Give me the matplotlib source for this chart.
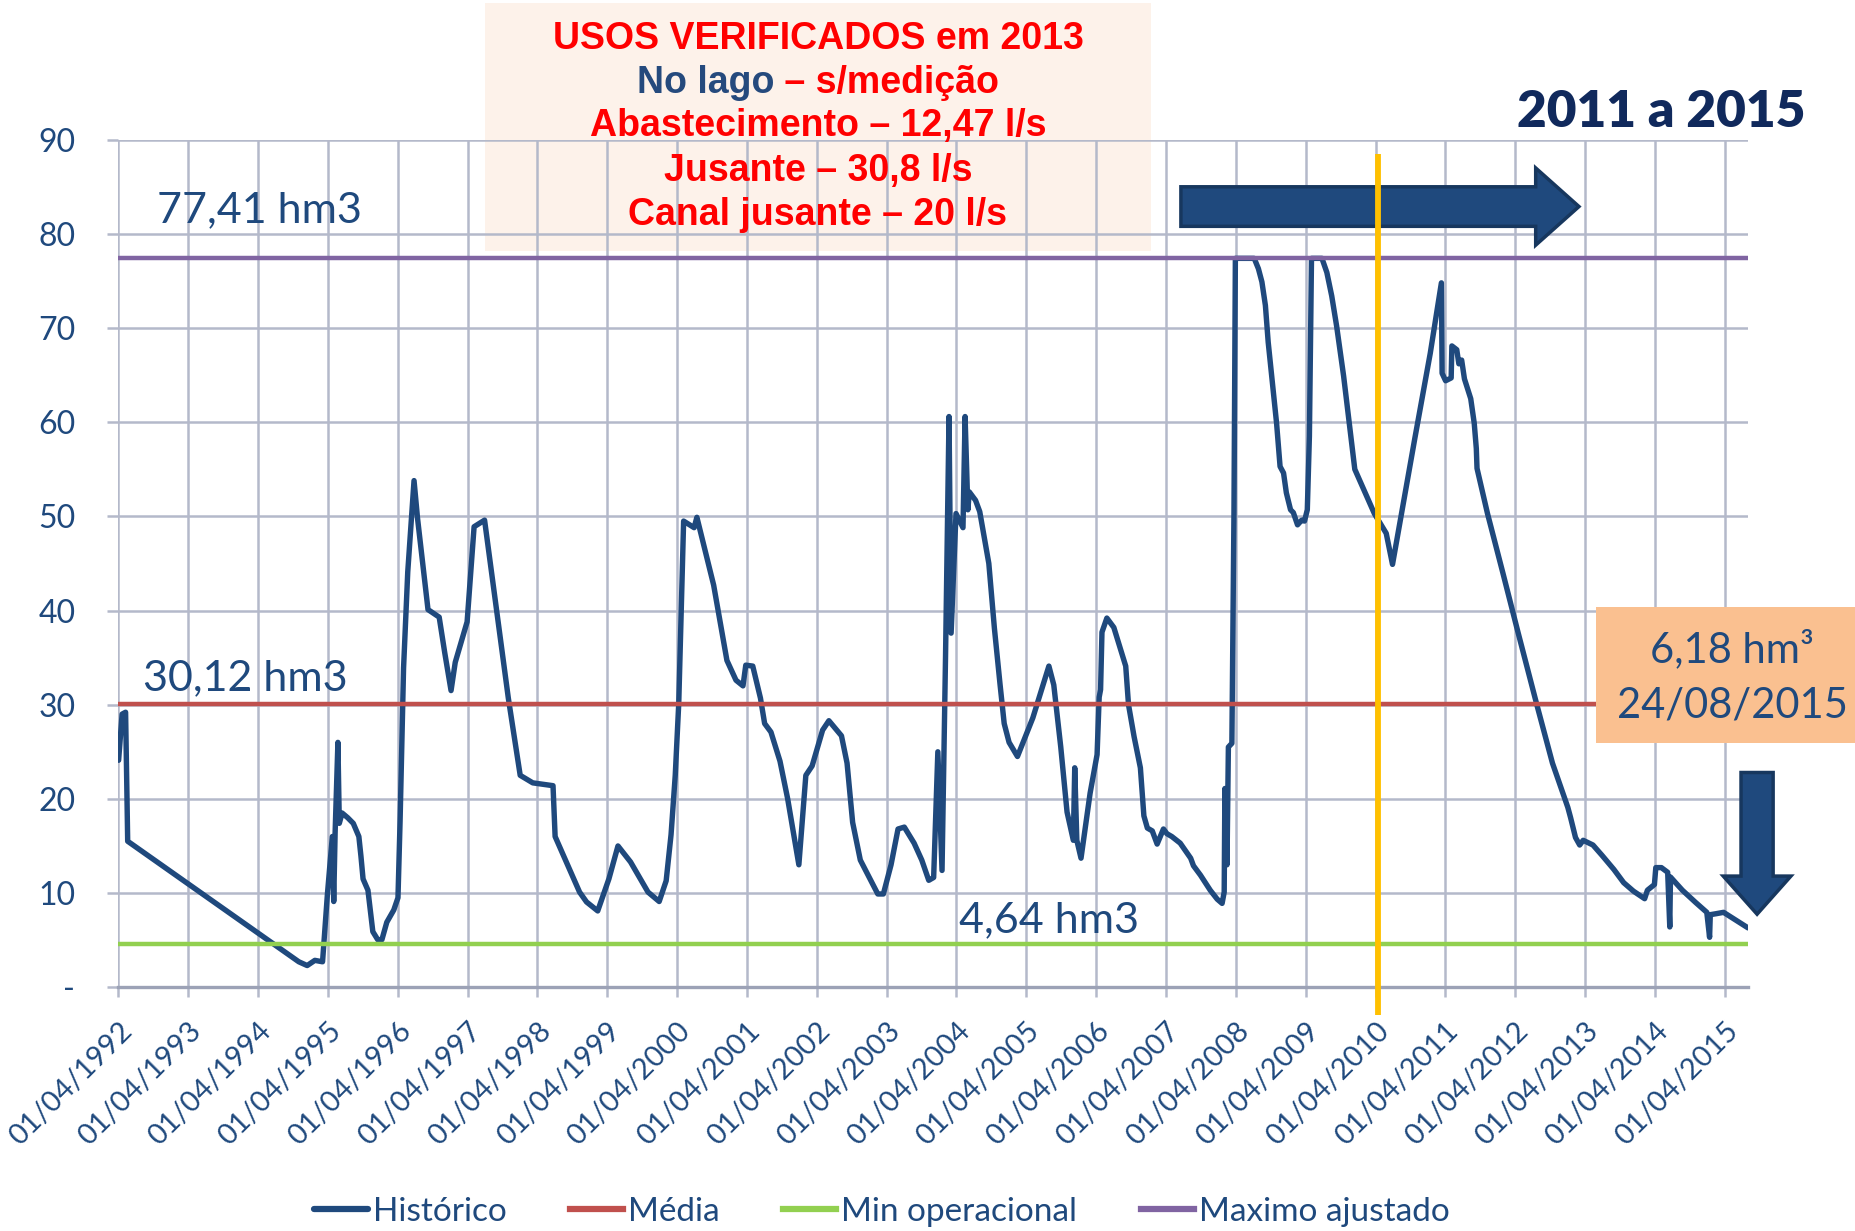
import matplotlib
matplotlib.use("Agg")
import matplotlib.pyplot as plt
from matplotlib.patches import Rectangle, FancyArrow

# volume do reservatorio (hm3), tempo em anos decimais
anos = [1992.25, 1992.30, 1992.35, 1992.38, 1994.83, 1994.95, 1995.06, 1995.17,
        1995.24, 1995.31, 1995.33, 1995.35, 1995.39, 1995.41, 1995.45, 1995.53,
        1995.61, 1995.69, 1995.72, 1995.75, 1995.82, 1995.89, 1995.96, 1996.02,
        1996.09, 1996.19, 1996.25, 1996.28, 1996.33, 1996.39, 1996.48, 1996.53,
        1996.68, 1996.84, 1996.92, 1997.01, 1997.07, 1997.24, 1997.34, 1997.49,
        1997.64, 1997.83, 1998.00, 1998.18, 1998.47, 1998.50, 1998.66, 1998.85,
        1998.95, 1999.11, 1999.27, 1999.40, 1999.58, 1999.83, 1999.99, 2000.09,
        2000.16, 2000.22, 2000.27, 2000.34, 2000.49, 2000.53, 2000.63, 2000.77,
        2000.96, 2001.09, 2001.19, 2001.23, 2001.33, 2001.44, 2001.50, 2001.59,
        2001.72, 2001.83, 2001.99, 2002.09, 2002.18, 2002.33, 2002.42, 2002.60,
        2002.68, 2002.76, 2002.87, 2003.12, 2003.20, 2003.31, 2003.41, 2003.50,
        2003.64, 2003.75, 2003.85, 2003.92, 2003.98, 2004.04, 2004.09, 2004.14,
        2004.17, 2004.24, 2004.34, 2004.37, 2004.41, 2004.43, 2004.52, 2004.58,
        2004.71, 2004.79, 2004.87, 2004.93, 2005.00, 2005.12, 2005.34, 2005.57,
        2005.64, 2005.74, 2005.83, 2005.92, 2005.94, 2005.97, 2006.03, 2006.16,
        2006.26, 2006.29, 2006.31, 2006.33, 2006.40, 2006.50, 2006.57, 2006.67,
        2006.71, 2006.79, 2006.88, 2006.93, 2006.98, 2007.05, 2007.12, 2007.21,
        2007.26, 2007.33, 2007.45, 2007.60, 2007.64, 2007.74, 2007.88, 2007.98,
        2008.05, 2008.08, 2008.09, 2008.12, 2008.14, 2008.19, 2008.22, 2008.24,
        2008.51, 2008.57, 2008.62, 2008.67, 2008.71, 2008.76, 2008.83, 2008.88,
        2008.93, 2008.97, 2009.03, 2009.07, 2009.13, 2009.19, 2009.23, 2009.27,
        2009.30, 2009.33, 2009.48, 2009.55, 2009.57, 2009.62, 2009.69, 2009.79,
        2009.87, 2009.95, 2010.23, 2010.40, 2010.49, 2010.81, 2011.03, 2011.19,
        2011.20, 2011.25, 2011.33, 2011.34, 2011.41, 2011.44, 2011.48, 2011.52,
        2011.61, 2011.66, 2011.69, 2011.70, 2011.85, 2012.07, 2012.29, 2012.56,
        2012.78, 2013.00, 2013.04, 2013.11, 2013.17, 2013.22, 2013.36, 2013.49,
        2013.66, 2013.80, 2013.94, 2014.10, 2014.14, 2014.24, 2014.26, 2014.34,
        2014.43, 2014.46, 2014.47, 2014.64, 2014.83, 2014.99, 2015.03, 2015.04,
        2015.12, 2015.23, 2015.40, 2015.58]
volume = [24.1, 29.0, 29.2, 15.5, 2.7, 2.3, 2.85, 2.7,
          9.9, 16.0, 9.1, 16.4, 26.0, 17.4, 18.5, 18.0,
          17.4, 16.0, 13.9, 11.5, 10.3, 5.9, 5.05, 5.05,
          6.9, 8.2, 9.5, 17.6, 33.9, 44.1, 53.8, 49.8,
          40.1, 39.3, 35.5, 31.5, 34.5, 38.8, 48.9, 49.6,
          41.3, 30.7, 22.5, 21.7, 21.4, 16.0, 13.3, 10.1,
          9.05, 8.1, 11.5, 15.0, 13.3, 10.1, 9.1, 11.3,
          16.2, 22.5, 30.1, 49.5, 48.8, 49.9, 46.9, 42.7,
          34.7, 32.6, 32.0, 34.2, 34.1, 30.7, 28.0, 27.1,
          24.0, 20.0, 13.0, 22.5, 23.5, 27.3, 28.3, 26.7,
          23.8, 17.5, 13.5, 9.9, 9.9, 13.0, 16.8, 17.0,
          15.3, 13.5, 11.35, 11.65, 25.0, 12.4, 35.1, 60.6,
          37.6, 50.3, 48.8, 60.6, 50.7, 52.6, 51.7, 50.5,
          45.0, 38.1, 32.2, 28.0, 26.0, 24.5, 28.6, 34.1,
          32.1, 25.5, 18.6, 15.6, 23.3, 15.6, 13.7, 20.6,
          24.7, 30.8, 31.6, 37.7, 39.2, 38.2, 36.5, 34.1,
          30.0, 26.6, 23.3, 18.2, 16.9, 16.6, 15.2, 16.8,
          16.3, 16.0, 15.3, 13.7, 12.9, 11.9, 10.3, 9.35,
          8.9, 10.1, 21.1, 13.0, 25.5, 25.9, 50.4, 77.4,
          77.4, 76.3, 74.9, 72.4, 68.5, 64.9, 59.9, 55.3,
          54.6, 52.5, 50.7, 50.4, 49.1, 49.6, 49.5, 50.7,
          58.5, 77.4, 77.4, 75.9, 75.2, 73.4, 70.2, 64.9,
          59.9, 55.0, 50.3, 48.2, 44.9, 58.3, 67.3, 74.8,
          65.2, 64.4, 64.7, 68.1, 67.7, 66.2, 66.6, 64.6,
          62.5, 59.9, 57.2, 55.1, 50.3, 44.0, 37.6, 29.9,
          23.8, 19.1, 18.0, 15.9, 15.1, 15.6, 15.1, 14.0,
          12.5, 11.1, 10.2, 9.4, 10.3, 10.9, 12.7, 12.7,
          12.2, 6.4, 11.7, 10.3, 9.0, 7.95, 5.3, 7.7,
          7.8, 7.95, 7.15, 6.3]

MEDIA = 30.12
MIN_OPERACIONAL = 4.64
MAXIMO = 77.41
MARCO_2010 = 2010.28

anos_ticks = list(range(1992, 2016))
y_ticks = [0, 10, 20, 30, 40, 50, 60, 70, 80, 90]

box_linhas = ["USOS VERIFICADOS em 2013", None, "Abastecimento \u2013 12,47 l/s",
              "Jusante \u2013 30,8 l/s", "Canal jusante \u2013 20 l/s"]

AZUL = "#1F497D"
VERMELHO = "#FF0000"
CAL = ["Lato", "DejaVu Sans"]
ARIAL = ["Liberation Sans", "DejaVu Sans"]

W, H = 1856, 1231
fig = plt.figure(figsize=(W / 100, H / 100), dpi=100)
fig.patch.set_facecolor("white")
ax = fig.add_axes([118.4 / W, 1 - 987.2 / H, (1748 - 118.4) / W, (987.2 - 139.7) / H])
ax.set_facecolor("none")

# serie e linhas de referencia
x0, x1 = anos[0], anos[-1]
ax.plot(anos, volume, color=AZUL, lw=3.9, solid_joinstyle="round",
        solid_capstyle="round", zorder=3, label="Hist\u00f3rico")
ax.plot([x0, x1], [MEDIA, MEDIA], color="#C0504D", lw=3.2, zorder=4, label="M\u00e9dia")
ax.plot([x0, x1], [MIN_OPERACIONAL] * 2, color="#92D050", lw=3.2, zorder=4,
        label="Min operacional")
ax.plot([x0, x1], [MAXIMO, MAXIMO], color="#8064A2", lw=3.2, zorder=4,
        label="Maximo ajustado")

ax.set_xlim(x0, x1)
ax.set_ylim(0, 90)
tick_pos = [a + 0.247 for a in anos_ticks]
ax.set_xticks(tick_pos)
ax.set_xticklabels(["01/04/%d" % a for a in anos_ticks], rotation=45, ha="right",
                   va="top", rotation_mode="anchor", family=CAL, fontsize=21,
                   color=AZUL)
ax.set_yticks(y_ticks)
ax.set_yticklabels(["-" if v == 0 else str(v) for v in y_ticks], family=CAL,
                   fontsize=23, color=AZUL)
ax.grid(True, color="#B4B9CA", lw=1.8, zorder=0)
ax.set_axisbelow(True)
ax.tick_params(axis="x", length=7, width=1.8, color="#B4B9CA", pad=15)
ax.tick_params(axis="y", length=8, width=1.8, color="#B4B9CA", pad=23)
for s in ["top", "right", "left"]:
    ax.spines[s].set_visible(False)
ax.spines["bottom"].set_color("#9CA2B6")
ax.spines["bottom"].set_linewidth(2.4)

# rotulos das linhas
def fmt(v):
    return ("%.2f" % v).replace(".", ",") + " hm3"

ax.text(1992.8, 82.5, fmt(MAXIMO), family=CAL, fontsize=31, color=AZUL,
        ha="left", va="center", zorder=6)
ax.text(1992.6, 32.8, fmt(MEDIA), family=CAL, fontsize=31, color=AZUL,
        ha="left", va="center", zorder=6)
ax.text(2004.29, 7.15, fmt(MIN_OPERACIONAL), family=CAL, fontsize=31, color=AZUL,
        ha="left", va="center", zorder=6)

# marco vertical amarelo
ax.plot([MARCO_2010, MARCO_2010], [88.5, -3.0], color="#FFC000", lw=4.2,
        clip_on=False, zorder=7, solid_capstyle="butt")

# setas
seta_dir = FancyArrow(2007.46, 82.9, 5.70, 0, width=4.2, head_width=8.2,
                      head_length=0.62, length_includes_head=True,
                      facecolor="#1F497D", edgecolor="#17375E", lw=2.5,
                      zorder=5, clip_on=False)
ax.add_patch(seta_dir)
seta_baixo = FancyArrow(2015.71, 22.8, 0, -15.05, width=0.46, head_width=0.97,
                        head_length=4.05, length_includes_head=True,
                        facecolor="#1F497D", edgecolor="#17375E", lw=2.5,
                        zorder=5, clip_on=False)
ax.add_patch(seta_baixo)

# caixa de usos (atras da grade)
fig.patches.append(Rectangle((485 / W, 1 - 251 / H), (1151 - 485) / W, 247.5 / H,
                             transform=fig.transFigure, facecolor="#FDF2EA",
                             edgecolor="none", zorder=-1))
cx = 818 / W
ys = [39.0, 83.0, 126.5, 171.0, 215.0]
for linha, yy in zip(box_linhas, ys):
    if linha is None:
        continue
    fig.text(cx, 1 - yy / H, linha, family=ARIAL, weight="bold", fontsize=27,
             color=VERMELHO, ha="center", va="center", zorder=8)

# linha com duas cores
r = fig.canvas.get_renderer()
ta = fig.text(0, 0, "No lago", family=ARIAL, weight="bold", fontsize=27)
tb = fig.text(0, 0, " \u2013 s/medi\u00e7\u00e3o", family=ARIAL, weight="bold", fontsize=27)
wa = ta.get_window_extent(r).width
wb = tb.get_window_extent(r).width
ta.remove()
tb.remove()
xs = (818 - (wa + wb) / 2 + wa) / W
fig.text(xs, 1 - ys[1] / H, "No lago", family=ARIAL, weight="bold", fontsize=27,
         color="#254A7D", ha="right", va="center", zorder=8)
fig.text(xs, 1 - ys[1] / H, " \u2013 s/medi\u00e7\u00e3o", family=ARIAL, weight="bold",
         fontsize=27, color=VERMELHO, ha="left", va="center", zorder=8)

fig.text(1661 / W, 1 - 112 / H, "2011 a 2015", family=CAL, weight="heavy",
         fontsize=37, color="#10295C", ha="center", va="center")

# caixa laranja
fig.patches.append(Rectangle((1596 / W, 1 - 743 / H), (W - 1596) / W, 136 / H,
                             transform=fig.transFigure, facecolor="#FAC090",
                             edgecolor="none", zorder=3))
fig.text(1732 / W, 1 - 649 / H, "6,18 hm\u00b3", family=CAL, fontsize=30,
         color=AZUL, ha="center", va="center", zorder=8)
fig.text(1732 / W, 1 - 705 / H, "24/08/2015", family=CAL, fontsize=30,
         color=AZUL, ha="center", va="center", zorder=8)

leg = ax.legend(loc="center", bbox_to_anchor=(882 / W, 1 - 1212 / H),
                bbox_transform=fig.transFigure, ncol=4, frameon=False,
                prop={"family": CAL, "size": 24}, handlelength=1.6,
                handletextpad=0.15, columnspacing=1.9, labelcolor=AZUL)
for h in leg.get_lines():
    h.set_linewidth(4.5)

fig.savefig("out.png", dpi=100)
